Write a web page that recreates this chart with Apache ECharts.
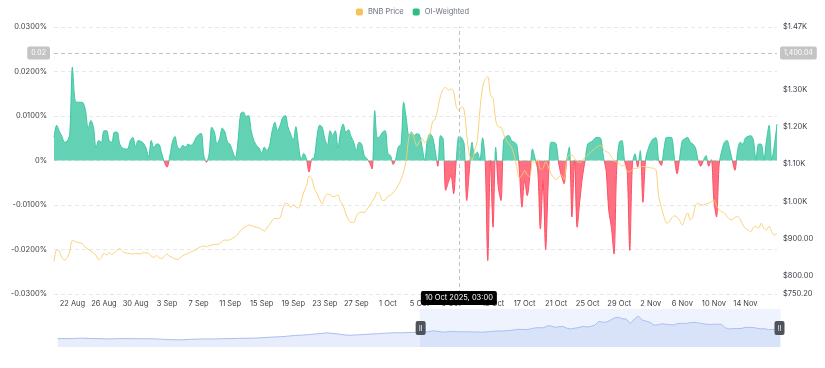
<!DOCTYPE html>
<html><head><meta charset="utf-8">
<script src="https://cdn.jsdelivr.net/npm/echarts@6/dist/echarts.min.js"></script>
<style>html,body{margin:0;padding:0;background:#fff;}#c{width:825px;height:368px;}</style>
</head><body><div id="c"></div>
<script>
const FONT = 'Inter, "Noto Sans", sans-serif';

// funding slots (local time): [start, step in hours, count]
const slotSegments = [
  ['2025-05-19T19:00', 8, 276],   // earlier part, outside the zoom window
  ['2025-08-19T19:00', 8, 157],   // 19 Aug 19:00 .. 10 Oct 19:00
  ['2025-10-10T23:00', 4, 7],     // 4h funding during the 10-11 Oct crash
  ['2025-10-12T03:00', 8, 112]    // 12 Oct 03:00 .. 18 Nov 03:00
];

// BNB daily price for the earlier (hidden) part, only shown in the slider
const hiddenDailyPrice = [
  650,655,652,648,655,660,665,662,655,650,
  652,648,645,642,645,648,650,652,648,650,
  652,648,646,648,645,640,635,628,622,618,
  615,612,618,625,630,635,638,640,642,640,
  642,645,648,650,652,655,658,660,662,665,
  668,672,680,688,695,700,705,712,722,735,
  745,752,758,768,778,790,800,812,825,818,
  805,790,775,760,752,758,765,772,780,788,
  795,800,808,815,822,828,832,826,832,838,842,840
];

// OI-weighted funding rate (%), visible window
const fundingRate = [
  0.0052,0.0079,0.0066,0.0054,0.0041,0.0043,0.0060,0.0210,0.0135,0.0131,
  0.0131,0.0130,0.0112,0.0071,0.0090,0.0075,0.0028,0.0045,0.0041,0.0067,
  0.0067,0.0045,0.0041,0.0064,0.0064,0.0037,0.0028,0.0026,0.0026,0.0045,
  0.0052,0.0031,0.0045,0.0043,0.0039,0.0028,0.0008,0.0045,0.0028,0.0037,
  0.0036,0.0015,-0.0004,-0.0015,0.0008,0.0041,0.0054,0.0030,0.0026,0.0034,
  0.0030,0.0037,0.0034,0.0039,0.0051,0.0058,0.0061,0.0011,-0.0004,0.0015,
  0.0075,0.0064,0.0037,0.0049,0.0073,0.0064,0.0041,0.0036,0.0019,0.0006,
  0.0045,0.0105,0.0109,0.0099,0.0101,0.0067,0.0045,0.0034,0.0028,0.0016,
  0.0030,0.0022,0.0034,0.0067,0.0086,0.0067,0.0079,0.0097,0.0101,0.0075,
  0.0060,0.0045,0.0076,0.0034,0.0002,0.0016,0.0004,-0.0026,0.0003,0.0007,
  0.0052,0.0079,0.0075,0.0049,0.0034,0.0067,0.0056,0.0067,0.0028,0.0064,
  0.0082,0.0064,0.0069,0.0054,0.0041,0.0022,0.0041,0.0037,0.0011,0.0004,
  -0.0005,-0.0019,0.0112,0.0051,0.0054,0.0064,0.0067,0.0016,0.0011,-0.0009,
  0.0004,0.0031,0.0036,0.0131,0.0094,0.0056,0.0064,0.0056,0.0060,0.0058,
  0.0030,0.0000,0.0045,0.0060,0.0052,0.0022,-0.0013,0.0056,0.0049,-0.0067,
  -0.0049,-0.0034,-0.0075,0.0000,0.0054,0.0051,0.0037,-0.0090,-0.0022,0.0041,
  0.0011,0.0019,0.0000,0.0051,0.0000,-0.0225,0.0000,-0.0150,0.0030,-0.0060,
  -0.0090,0.0045,0.0054,0.0056,0.0045,0.0041,0.0036,-0.0022,-0.0105,-0.0045,
  -0.0079,-0.0034,0.0026,0.0004,-0.0022,-0.0154,-0.0045,-0.0200,-0.0050,0.0041,
  0.0041,0.0037,-0.0008,-0.0034,-0.0052,0.0000,0.0030,-0.0127,0.0000,-0.0150,
  -0.0090,-0.0037,0.0000,0.0037,0.0041,0.0045,0.0051,0.0052,0.0049,0.0007,
  -0.0022,-0.0112,-0.0150,-0.0210,-0.0022,0.0041,0.0045,0.0000,-0.0022,-0.0202,
  -0.0008,0.0015,-0.0015,0.0022,-0.0094,0.0002,0.0026,0.0041,0.0049,0.0051,
  0.0000,-0.0011,0.0026,0.0052,0.0052,0.0051,0.0004,-0.0030,0.0007,0.0045,
  0.0049,0.0052,0.0041,0.0037,0.0028,0.0000,-0.0013,0.0000,0.0011,-0.0013,
  0.0002,-0.0090,-0.0127,-0.0008,0.0022,0.0041,0.0045,0.0026,0.0000,-0.0022,
  0.0022,0.0041,0.0037,0.0051,0.0054,0.0056,0.0046,0.0002,0.0037,0.0037,
  0.0002,0.0045,0.0079,0.0002,0.0034,0.0082
];

// BNB price (USD), visible window
const bnbPrice = [
  837,869,866,848,842,848,865,895,892,889,
  888,884,876,871,866,860,855,842,848,860,
  855,862,857,861,869,872,866,861,860,859,
  858,860,859,858,862,861,860,852,849,854,
  848,846,852,858,852,849,845,843,848,853,
  857,860,864,866,870,875,878,880,877,880,
  882,884,884,886,892,896,895,897,901,905,
  912,922,928,932,936,935,932,930,928,924,
  920,928,938,948,954,953,956,980,995,994,
  984,990,985,982,1000,1025,1040,1068,1062,1035,
  1022,1005,993,1011,1020,1017,1013,1014,1017,999,
  988,966,950,943,943,960,969,971,970,978,
  988,999,1011,1025,1017,1002,1004,1013,1017,1023,
  1032,1044,1059,1080,1112,1174,1185,1170,1149,1161,
  1170,1158,1167,1179,1215,1221,1251,1284,1302,1307,
  1300,1303,1296,1255,1246,1255,1246,1179,1125,1111,
  1138,1164,1246,1307,1329,1336,1287,1278,1219,1201,
  1200,1182,1164,1156,1146,1125,1093,1062,1071,1083,
  1071,1067,1110,1103,1113,1086,1089,1107,1093,1075,
  1065,1058,1066,1070,1059,1111,1125,1125,1116,1107,
  1104,1111,1119,1125,1131,1138,1144,1149,1151,1140,
  1134,1131,1120,1110,1106,1103,1095,1098,1080,1080,
  1086,1089,1089,1094,1094,1093,1092,1090,1089,1085,
  1013,984,959,941,945,955,961,957,948,936,
  954,969,950,959,990,995,991,990,993,995,
  999,1004,988,977,972,968,959,952,950,957,
  959,952,936,927,923,918,930,932,927,941,
  927,923,933,918,909,914
];

const crossSlot = 154;        // 10 Oct 2025, 03:00 (visible index)
const crossPrice = 1400.04;
const leftAxisRange = { min: -0.03, max: 0.03, interval: 0.01 };
const rightAxisRange = { min: 750.2, max: 1470 };
const labelAnchor = '2025-08-22T03:00';
const MONTHS = ['Jan','Feb','Mar','Apr','May','Jun','Jul','Aug','Sep','Oct','Nov','Dec'];

// ---- build ----
const slotTimes = [];
slotSegments.forEach(([start, stepH, count]) => {
  const t0 = Date.parse(start + ':00Z');
  for (let k = 0; k < count; k++) slotTimes.push(t0 + k * stepH * 3600000);
});
const HIDDEN = slotSegments[0][2];
const categories = slotTimes.map(String);
const pad = new Array(HIDDEN).fill(null);
const anchorMs = Date.parse(labelAnchor + ':00Z');
const shadowSeries = hiddenDailyPrice.concat(bnbPrice.filter((v, i) => i % 3 === 0));

function toMs(v) { const n = Number(v); return n > 1e11 ? n : slotTimes[n]; }
function fmtDay(ms) { const d = new Date(ms); return d.getUTCDate() + ' ' + MONTHS[d.getUTCMonth()]; }
function fmtFull(ms) {
  const d = new Date(ms);
  const p = n => String(n).padStart(2, '0');
  return d.getUTCDate() + ' ' + MONTHS[d.getUTCMonth()] + ' ' + d.getUTCFullYear() + ', ' + p(d.getUTCHours()) + ':' + p(d.getUTCMinutes());
}
function showLabel(ms) {
  const days = (ms - anchorMs) / 86400000;
  return Number.isInteger(days) && ((days % 4) + 4) % 4 === 0;
}
function fmtMoney(v) {
  if (v >= 1000) return '$' + (v / 1000).toFixed(2) + 'K';
  return '$' + v.toFixed(2);
}
const crossLeft = leftAxisRange.min + (crossPrice - rightAxisRange.min) / (rightAxisRange.max - rightAxisRange.min) * (leftAxisRange.max - leftAxisRange.min);

const FS = 7.5;
const TXT = '#3a3f46';
const pointerLine = { color: '#BFC3C8', type: [4, 3], width: 1 };

const chart = echarts.init(document.getElementById('c'), null, { renderer: 'canvas' });
chart.setOption({
  animation: false,
  textStyle: { fontFamily: FONT },
  legend: {
    top: 3, left: 'center', itemWidth: 7, itemHeight: 7, itemGap: 9, icon: 'roundRect',
    data: ['BNB Price', 'OI-Weighted'],
    textStyle: { fontSize: FS, color: '#6B7280', fontFamily: FONT }
  },
  grid: { left: 54, right: 48, top: 27, bottom: 74 },
  xAxis: {
    type: 'category', data: categories, boundaryGap: false,
    axisLine: { show: false }, axisTick: { show: false }, splitLine: { show: false },
    axisLabel: {
      interval: (idx, val) => showLabel(toMs(val)),
      formatter: (val) => fmtDay(toMs(val)),
      showMaxLabel: false,
      fontSize: FS, color: TXT, margin: 6, fontFamily: FONT
    },
    axisPointer: {
      show: true, status: 'show', value: HIDDEN + crossSlot, type: 'line', triggerTooltip: false,
      lineStyle: pointerLine,
      label: {
        show: true, formatter: p => fmtFull(toMs(p.value)),
        backgroundColor: '#000', color: '#fff', fontSize: FS, padding: [3, 4], borderRadius: 2, margin: -3, fontFamily: FONT
      }
    }
  },
  yAxis: [
    {
      type: 'value', position: 'left', min: leftAxisRange.min, max: leftAxisRange.max, interval: leftAxisRange.interval,
      axisLine: { show: false }, axisTick: { show: false },
      splitLine: { lineStyle: { color: '#E6E8EB', type: [4, 3] } },
      axisLabel: {
        formatter: v => Math.abs(v) < 1e-9 ? '0%' : v.toFixed(4) + '%',
        fontSize: FS, color: TXT, margin: 7, fontFamily: FONT
      },
      axisPointer: {
        show: true, status: 'show', value: crossLeft, type: 'line', triggerTooltip: false,
        lineStyle: pointerLine,
        label: {
          show: true, formatter: p => Number(p.value).toFixed(2),
          backgroundColor: '#C4C4C4', color: '#fff', fontSize: 7, padding: [3, 4], borderRadius: 2, margin: 4, fontFamily: FONT
        }
      }
    },
    {
      type: 'value', position: 'right', min: rightAxisRange.min, max: rightAxisRange.max,
      axisLine: { show: false }, axisTick: { show: false }, splitLine: { show: false },
      axisLabel: { formatter: fmtMoney, fontSize: FS, color: TXT, margin: 6, fontFamily: FONT },
      axisPointer: {
        show: true, status: 'show', value: crossPrice, type: 'line', triggerTooltip: false,
        lineStyle: pointerLine,
        label: {
          show: true,
          formatter: p => Number(p.value).toLocaleString('en-US', { minimumFractionDigits: 2, maximumFractionDigits: 2 }),
          backgroundColor: '#C4C4C4', color: '#fff', fontSize: 7, padding: [3, 4], borderRadius: 2, margin: 3, fontFamily: FONT
        }
      }
    }
  ],
  visualMap: {
    show: false, type: 'piecewise', seriesIndex: 1, dimension: 1,
    pieces: [{ gte: -1, lt: 0, color: '#FF4D63' }, { gte: 0, lte: 1, color: '#3CC7A2' }],
    outOfRange: { color: '#3CC7A2' }
  },
  dataZoom: [{
    type: 'slider', xAxisIndex: 0, startValue: HIDDEN, endValue: slotTimes.length - 1,
    left: 55, right: 47, top: 309, height: 38,
    showDetail: false, brushSelect: false, moveHandleSize: 0,
    borderColor: 'transparent', backgroundColor: 'transparent',
    fillerColor: 'rgba(110,145,235,0.11)',
    dataBackground: {
      lineStyle: { color: '#A9BDF0', width: 1, opacity: 1 },
      areaStyle: { color: '#E7EDFA', opacity: 1 }
    },
    selectedDataBackground: {
      lineStyle: { color: '#B2C4F2', width: 1, opacity: 1 },
      areaStyle: { color: '#E6EDFC', opacity: 1 }
    },
    handleIcon: 'path://M2,0H8A2,2,0,0,1,10,2V12A2,2,0,0,1,8,14H2A2,2,0,0,1,0,12V2A2,2,0,0,1,2,0ZM3.8,4V10H4.5V4ZM5.5,4V10H6.2V4Z',
    handleSize: 14,
    handleStyle: { color: '#4F535B', borderColor: '#4F535B', borderWidth: 0 },
    textStyle: { color: 'transparent' }
  }],
  series: [
    {
      name: 'shadow', type: 'line', data: shadowSeries, yAxisIndex: 1, symbol: 'none',
      lineStyle: { opacity: 0 }, silent: true, z: 0
    },
    {
      name: 'OI-Weighted', type: 'line', data: pad.concat(fundingRate), yAxisIndex: 0,
      smooth: 0.3, symbol: 'none', itemStyle: { color: '#2EBD85' },
      lineStyle: { width: 1 }, areaStyle: { opacity: 0.8 }, z: 2
    },
    {
      name: 'BNB Price', type: 'line', data: pad.concat(bnbPrice), yAxisIndex: 1,
      smooth: 0.3, symbol: 'none', itemStyle: { color: '#F5C35D' },
      lineStyle: { width: 1, color: '#F8CD6E', opacity: 0.9 }, z: 3
    }
  ]
});
</script>
</body></html>
